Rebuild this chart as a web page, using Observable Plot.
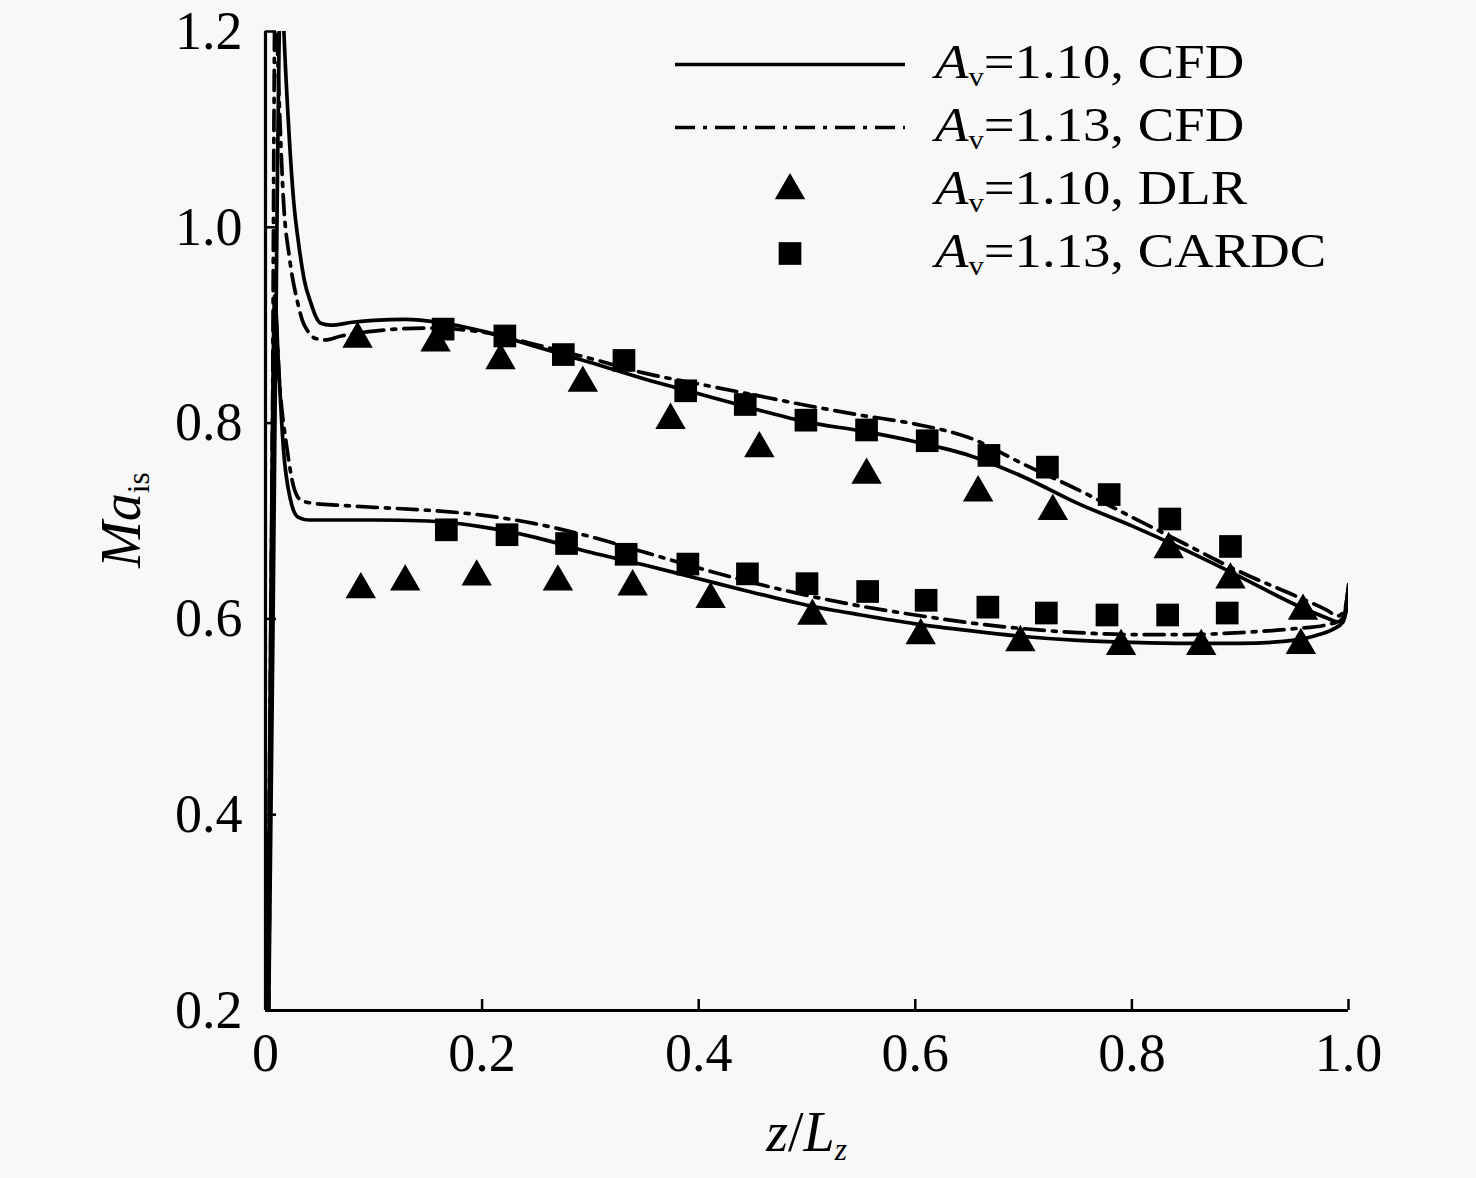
<!DOCTYPE html>
<html>
<head>
<meta charset="utf-8">
<script src="https://cdn.jsdelivr.net/npm/d3@7"></script>
<script src="https://cdn.jsdelivr.net/npm/@observablehq/plot@0.6"></script>
<style>
html,body{margin:0;padding:0;background:#f8f8f8;}
#wrap{position:relative;width:1476px;height:1178px;font-family:"Liberation Serif","Times New Roman",serif;color:#000;overflow:hidden;}
#legend{position:absolute;left:672px;top:33px;}
.row{display:flex;align-items:center;height:63px;}
.row svg{width:236px;height:63px;flex:none;}
.lab{font-size:48px;line-height:1;margin-left:27px;white-space:nowrap;position:relative;top:-3px;transform:scaleX(1.14);transform-origin:0 50%;}
.it{font-style:italic;}
.sb{font-size:0.56em;position:relative;top:0.3em;}
#xlab{position:absolute;left:265px;width:1083px;top:1104px;text-align:center;font-size:56px;line-height:1;}
#ylab{position:absolute;left:-79px;top:492px;width:400px;height:56px;text-align:center;font-size:56px;line-height:1;transform:rotate(-90deg);transform-origin:50% 50%;}
</style>
</head>
<body>
<div id="wrap"></div>
<script>
// ---- data ----
const xTicks = [0, 0.2, 0.4, 0.6, 0.8, 1.0];
const xTickLabels = ["0", "0.2", "0.4", "0.6", "0.8", "1.0"];
const yTicks = [0.2, 0.4, 0.6, 0.8, 1.0, 1.2];
const yTickLabels = ["0.2", "0.4", "0.6", "0.8", "1.0", "1.2"];

// CFD, Av = 1.10 (solid), upper branch
const cfd110UpZ  = [0.003,0.007,0.011,0.0145,0.017,0.021,0.026,0.031,0.036,0.0415,0.046,0.051,0.06,0.08,0.1,0.13,0.16,0.2,0.25,0.3,0.35,0.4,0.45,0.5,0.55,0.6,0.65,0.7,0.75,0.8,0.85,0.9,0.95,0.98,0.99,0.996,1.0];
const cfd110UpMa = [0.2,0.6,1.05,1.28,1.2,1.11,1.027,0.98,0.945,0.924,0.910,0.902,0.900,0.903,0.905,0.906,0.903,0.894,0.878,0.862,0.845,0.830,0.815,0.801,0.792,0.781,0.767,0.745,0.718,0.695,0.670,0.643,0.615,0.601,0.597,0.604,0.635];
// CFD, Av = 1.10 (solid), lower branch
const cfd110LowZ  = [0.002,0.005,0.0085,0.012,0.0166,0.023,0.03,0.04,0.06,0.1,0.15,0.2,0.25,0.3,0.35,0.4,0.45,0.5,0.55,0.6,0.65,0.7,0.75,0.8,0.85,0.9,0.94,0.97,0.985,0.995,1.0];
const cfd110LowMa = [0.2,0.62,0.93,0.86,0.773,0.722,0.704,0.701,0.701,0.701,0.700,0.694,0.683,0.668,0.655,0.641,0.627,0.614,0.604,0.595,0.588,0.582,0.578,0.576,0.575,0.575,0.577,0.583,0.589,0.597,0.62];
// CFD, Av = 1.13 (dash-dot), upper branch
const cfd113UpZ  = [0.003,0.006,0.009,0.012,0.0166,0.022,0.0295,0.034,0.039,0.045,0.055,0.07,0.1,0.15,0.2,0.25,0.3,0.35,0.4,0.45,0.5,0.55,0.6,0.65,0.7,0.75,0.8,0.85,0.9,0.95,0.98,0.99,0.996,1.0];
const cfd113UpMa = [0.2,0.7,1.25,1.15,1.027,0.97,0.924,0.905,0.894,0.887,0.885,0.889,0.894,0.897,0.893,0.880,0.866,0.851,0.840,0.829,0.818,0.808,0.799,0.785,0.758,0.732,0.704,0.676,0.648,0.624,0.609,0.603,0.608,0.632];
// CFD, Av = 1.13 (dash-dot), lower branch
const cfd113LowZ  = [0.002,0.005,0.0085,0.013,0.02,0.026,0.033,0.045,0.07,0.1,0.15,0.2,0.25,0.3,0.35,0.4,0.45,0.5,0.55,0.6,0.65,0.7,0.75,0.8,0.85,0.9,0.95,0.98,0.995,1.0];
const cfd113LowMa = [0.2,0.6,0.92,0.84,0.773,0.735,0.721,0.718,0.716,0.714,0.711,0.706,0.697,0.684,0.668,0.652,0.637,0.624,0.613,0.604,0.596,0.590,0.586,0.584,0.584,0.586,0.590,0.594,0.600,0.625];

// DLR experiment, Av = 1.10 (triangles)
const dlrUpZ   = [0.085,0.157,0.217,0.293,0.374,0.456,0.555,0.658,0.727,0.834,0.891,0.958];
const dlrUpMa  = [0.886,0.882,0.864,0.841,0.803,0.774,0.747,0.729,0.710,0.671,0.640,0.608];
const dlrLowZ  = [0.088,0.129,0.195,0.270,0.339,0.411,0.505,0.605,0.697,0.790,0.864,0.956];
const dlrLowMa = [0.630,0.638,0.643,0.638,0.633,0.620,0.603,0.583,0.576,0.572,0.572,0.573];

// CARDC experiment, Av = 1.13 (squares)
const cardcUpZ   = [0.164,0.221,0.275,0.331,0.388,0.443,0.499,0.555,0.611,0.668,0.722,0.779,0.835,0.891];
const cardcUpMa  = [0.896,0.889,0.870,0.864,0.833,0.819,0.803,0.793,0.782,0.767,0.755,0.727,0.702,0.674];
const cardcLowZ  = [0.167,0.223,0.278,0.333,0.390,0.445,0.500,0.556,0.610,0.667,0.721,0.777,0.833,0.888];
const cardcLowMa = [0.691,0.686,0.677,0.666,0.656,0.646,0.636,0.628,0.619,0.612,0.606,0.604,0.604,0.606];

// ---- build tables ----
const pts = (zs, ms, series) => zs.map((z, i) => ({z, ma: ms[i], series}));
const solid = [...pts(cfd110UpZ, cfd110UpMa, "up"), ...pts(cfd110LowZ, cfd110LowMa, "low")];
const dashdot = [...pts(cfd113UpZ, cfd113UpMa, "up"), ...pts(cfd113LowZ, cfd113LowMa, "low")];
const tri = [...pts(dlrUpZ, dlrUpMa, "up"), ...pts(dlrLowZ, dlrLowMa, "low")];
const sq = [...pts(cardcUpZ, cardcUpMa, "up"), ...pts(cardcLowZ, cardcLowMa, "low")];

const DASH = "20,8,4,8";
const LW = 3.7;
const TRI_R = 11.3, SQ_R = 12.8;

const chart = Plot.plot({
  width: 1476,
  height: 1178,
  marginLeft: 265,
  marginRight: 128,
  marginTop: 31,
  marginBottom: 168,
  style: {background: "transparent", fontFamily: "'Liberation Serif','Times New Roman',serif", fontSize: "54px", color: "#000", overflow: "visible"},
  x: {domain: [0, 1]},
  y: {domain: [0.2, 1.2]},
  marks: [
    Plot.line(solid, {x: "z", y: "ma", z: "series", stroke: "#000", strokeWidth: LW, curve: "monotone-x", clip: true}),
    Plot.line(dashdot, {x: "z", y: "ma", z: "series", stroke: "#000", strokeWidth: LW, strokeDasharray: DASH, curve: "monotone-x", clip: true}),
    Plot.dot(tri, {x: "z", y: "ma", symbol: "triangle", r: TRI_R, fill: "#000", stroke: "none"}),
    Plot.dot(sq, {x: "z", y: "ma", symbol: "square", r: SQ_R, fill: "#000", stroke: "none"}),
    Plot.ruleX([0], {y1: 0.2, y2: 1.2, stroke: "#000", strokeWidth: 3.2}),
    Plot.ruleY([0.2], {x1: 0, x2: 1, stroke: "#000", strokeWidth: 3.2}),
    Plot.axisX({ticks: xTicks, tickFormat: d => xTickLabels[xTicks.indexOf(d)], tickSize: -11, tickPadding: 33, strokeWidth: 2.5, label: null}),
    Plot.axisY({ticks: yTicks, tickFormat: d => yTickLabels[yTicks.indexOf(d)], tickSize: -11, tickPadding: 34, strokeWidth: 2.5, label: null})
  ]
});

const wrap = document.getElementById("wrap");
wrap.appendChild(chart);

// axis titles
const xlab = document.createElement("div");
xlab.id = "xlab";
xlab.innerHTML = '<span class="it">z</span>/<span class="it">L</span><span class="it sb">z</span>';
wrap.appendChild(xlab);
const ylab = document.createElement("div");
ylab.id = "ylab";
ylab.innerHTML = '<span class="it">Ma</span><span class="sb">is</span>';
wrap.appendChild(ylab);

// legend
const legendItems = [
  {kind: "solid", num: "1.10", src: "CFD"},
  {kind: "dashdot", num: "1.13", src: "CFD"},
  {kind: "triangle", num: "1.10", src: "DLR"},
  {kind: "square", num: "1.13", src: "CARDC"}
];
const legend = document.createElement("div");
legend.id = "legend";
wrap.appendChild(legend);
const sw = 236, sh = 63;
legendItems.forEach(it => {
  const row = d3.select(legend).append("div").attr("class", "row");
  const svg = row.append("svg").attr("viewBox", `0 0 ${sw} ${sh}`);
  if (it.kind === "solid" || it.kind === "dashdot") {
    svg.append("line").attr("x1", 3).attr("x2", sw - 3).attr("y1", sh / 2).attr("y2", sh / 2)
      .attr("stroke", "#000").attr("stroke-width", LW)
      .attr("stroke-dasharray", it.kind === "dashdot" ? DASH : null);
  } else {
    const r = it.kind === "triangle" ? TRI_R : SQ_R;
    const sym = it.kind === "triangle" ? d3.symbolTriangle : d3.symbolSquare;
    svg.append("path").attr("d", d3.symbol(sym, Math.PI * r * r)())
      .attr("transform", `translate(${sw / 2},${sh / 2})`).attr("fill", "#000");
  }
  row.append("div").attr("class", "lab")
    .html(`<span class="it">A</span><span class="sb">v</span>=${it.num}, ${it.src}`);
});
</script>
</body>
</html>
